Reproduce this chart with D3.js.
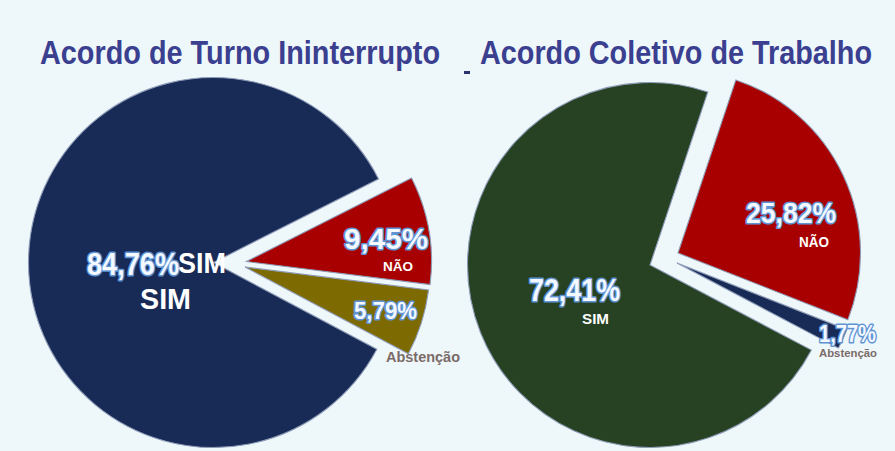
<!DOCTYPE html>
<html>
<head>
<meta charset="utf-8">
<script src="https://d3js.org/d3.v7.min.js"></script>
<style>
  html, body { margin: 0; padding: 0; background: #EEF7FA; }
  svg { display: block; }
  .title { font-family: "Liberation Sans", Arial, sans-serif; font-weight: bold; fill: #3B3F90; }
  .pct { font-family: "Liberation Sans", Arial, sans-serif; font-weight: bold; fill: #F4F8FF;
         stroke: #5F94D4; stroke-width: 3.2px; paint-order: stroke; stroke-linejoin: round; }
  .cat { font-family: "Liberation Sans", Arial, sans-serif; font-weight: bold; fill: #FFFFFF; }
  .abst { font-family: "Liberation Sans", Arial, sans-serif; font-weight: bold; fill: #7B6B68; }
</style>
</head>
<body>
<script>
// data
var categories = ["SIM", "NÃO", "Abstenção"];
var turnoValues = [84.76, 9.45, 5.79];
var coletivoValues = [72.41, 25.82, 1.77];
var titles = ["Acordo de Turno Ininterrupto", "Acordo Coletivo de Trabalho"];

var turnoColors = ["#182B57", "#A80000", "#7D6A00"];
var coletivoColors = ["#264222", "#A80000", "#182B57"];

var W = 895, H = 451;
var svg = d3.select("body").append("svg").attr("width", W).attr("height", H);
svg.append("rect").attr("width", W).attr("height", H).attr("fill", "#EEF7FA");

var fmt = function(v) { return d3.format(".2f")(v).replace(".", ",") + "%"; };
var rad = function(deg) { return deg * Math.PI / 180; };

// layout of the two pies (explode offsets and label spots)
var charts = [
  {
    title: titles[0], values: turnoValues, colors: turnoColors,
    cx: 213.5, cy: 262.5, r: 185, start: 118,
    titleX: 40, titleW: 400,
    explode: [[0, 0], [33, -1], [31.5, 4.5]],
    pct: [ {x: 87, y: 275, s: 32, w: 92}, {x: 344, y: 249, s: 30, w: 84}, {x: 354, y: 319, s: 24, w: 63} ],
    cat: [ {x: 140, y: 309, s: 29, w: 51}, {x: 383, y: 271, s: 13, w: 30}, {x: 386, y: 362, s: 14, w: 74} ]
  },
  {
    title: titles[1], values: coletivoValues, colors: coletivoColors,
    cx: 650, cy: 265, r: 182.5, start: 117.8,
    titleX: 480, titleW: 392,
    explode: [[0, 0], [28, -12], [27, -2]],
    pct: [ {x: 529, y: 301, s: 32, w: 91}, {x: 746, y: 223, s: 29, w: 90}, {x: 819, y: 342, s: 24, w: 57} ],
    cat: [ {x: 582, y: 324, s: 14, w: 27}, {x: 799, y: 247, s: 14, w: 30}, {x: 819, y: 357, s: 11.5, w: 58} ]
  }
];

charts.forEach(function(c, ci) {
  // title
  svg.append("text").attr("class", "title")
    .attr("x", c.titleX).attr("y", 64)
    .style("font-size", "33px")
    .attr("textLength", c.titleW).attr("lengthAdjust", "spacingAndGlyphs")
    .text(c.title);

  var pie = d3.pie().sort(null)
    .startAngle(rad(c.start)).endAngle(rad(c.start) + 2 * Math.PI);
  var arc = d3.arc().innerRadius(0).outerRadius(c.r);
  var arcs = pie(c.values);

  var g = svg.append("g").attr("transform", "translate(" + c.cx + "," + c.cy + ")");
  g.selectAll("path.slice")
    .data(arcs)
    .enter().append("path")
    .attr("class", "slice")
    .attr("transform", function(d, i) { return "translate(" + c.explode[i][0] + "," + c.explode[i][1] + ")"; })
    .attr("d", arc)
    .attr("fill", function(d, i) { return c.colors[i]; })
    .attr("stroke", "#8E9CB8")
    .attr("stroke-width", 1.1);

  // percentage labels
  arcs.forEach(function(d, i) {
    var p = c.pct[i];
    svg.append("text").attr("class", "pct")
      .attr("x", p.x).attr("y", p.y)
      .style("font-size", p.s + "px")
      .attr("textLength", p.w).attr("lengthAdjust", "spacingAndGlyphs")
      .text(fmt(d.data));
  });

  // category labels
  categories.forEach(function(name, i) {
    var p = c.cat[i];
    svg.append("text").attr("class", i == 2 ? "abst" : "cat")
      .attr("x", p.x).attr("y", p.y)
      .style("font-size", p.s + "px")
      .attr("textLength", p.w).attr("lengthAdjust", "spacingAndGlyphs")
      .text(name);
  });
});

// second "SIM" glued to the left percentage, as in the original
svg.append("text").attr("class", "cat")
  .attr("x", 178).attr("y", 273)
  .style("font-size", "29px")
  .attr("textLength", 48).attr("lengthAdjust", "spacingAndGlyphs")
  .text(categories[0]);

// stray dash between the titles
svg.append("rect").attr("x", 464).attr("y", 71).attr("width", 6).attr("height", 3).attr("fill", "#2A3570");
</script>
</body>
</html>
